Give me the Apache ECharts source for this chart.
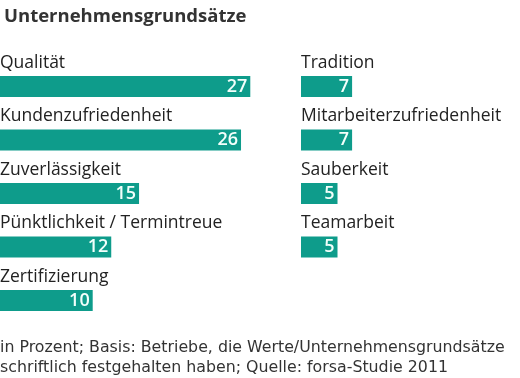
<!DOCTYPE html>
<html>
<head>
<meta charset="utf-8">
<script src="https://cdn.jsdelivr.net/npm/echarts@6/dist/echarts.min.js"></script>
<style>
html,body{margin:0;padding:0;background:#fff;}
#chart{width:520px;height:378px;}
</style>
</head>
<body>
<div id="chart"></div>
<script>
var title = "Unternehmensgrundsätze";
var leftCategories = ["Qualität", "Kundenzufriedenheit", "Zuverlässigkeit", "Pünktlichkeit / Termintreue", "Zertifizierung"];
var leftValues = [27, 26, 15, 12, 10];
var rightCategories = ["Tradition", "Mitarbeiterzufriedenheit", "Sauberkeit", "Teamarbeit"];
var rightValues = [7, 7, 5, 5];
var footnoteLines = [
  "in Prozent; Basis: Betriebe, die Werte/Unternehmensgrundsätze",
  "schriftlich festgehalten haben; Quelle: forsa-Studie 2011"
];

var FONT = "Open Sans";
var BAR = "#0e9c8b";
var TEXT = "#222222";
var band = 53.5;
var top0 = 86.5 - band / 2;
var pxPerUnit = 9.27;
var xMax = 30;

function makeSeries(idx, cats, vals) {
  return [
    {
      type: "bar", xAxisIndex: idx, yAxisIndex: idx,
      data: vals, barWidth: 21, barGap: "-100%",
      itemStyle: {color: BAR},
      label: {show: true, position: "insideRight", distance: 3,
        color: "#f2fffb", fontFamily: FONT, fontWeight: 600, fontSize: 18},
      silent: true, animation: false
    },
    {
      type: "bar", xAxisIndex: idx, yAxisIndex: idx,
      data: vals, barWidth: 21, barGap: "-100%",
      itemStyle: {color: "rgba(0,0,0,0)"},
      label: {show: true, position: [0, -4], verticalAlign: "bottom", align: "left",
        formatter: function (p) { return cats[p.dataIndex]; },
        color: TEXT, fontFamily: FONT, fontSize: 17.5},
      silent: true, animation: false
    }
  ];
}

var chart = echarts.init(document.getElementById("chart"), null, {renderer: "canvas"});
chart.setOption({
  animation: false,
  backgroundColor: "#ffffff",
  title: {
    text: title, left: -1, top: 2,
    textStyle: {fontFamily: FONT, fontWeight: "bold", fontSize: 18.5, color: "#333333"}
  },
  grid: [
    {left: 0, top: top0, width: xMax * pxPerUnit, height: band * leftCategories.length, containLabel: false},
    {left: 301, top: top0, width: xMax * pxPerUnit, height: band * rightCategories.length, containLabel: false}
  ],
  xAxis: [
    {gridIndex: 0, type: "value", min: 0, max: xMax, show: false},
    {gridIndex: 1, type: "value", min: 0, max: xMax, show: false}
  ],
  yAxis: [
    {gridIndex: 0, type: "category", data: leftCategories, inverse: true, show: false},
    {gridIndex: 1, type: "category", data: rightCategories, inverse: true, show: false}
  ],
  series: makeSeries(0, leftCategories, leftValues).concat(makeSeries(1, rightCategories, rightValues)),
  graphic: footnoteLines.map(function (t, i) {
    return {type: "text", left: 0, top: 340 + i * 20,
      style: {text: t, fill: "#333333", font: "15.8px 'DejaVu Sans'"}};
  })
});
</script>
</body>
</html>
